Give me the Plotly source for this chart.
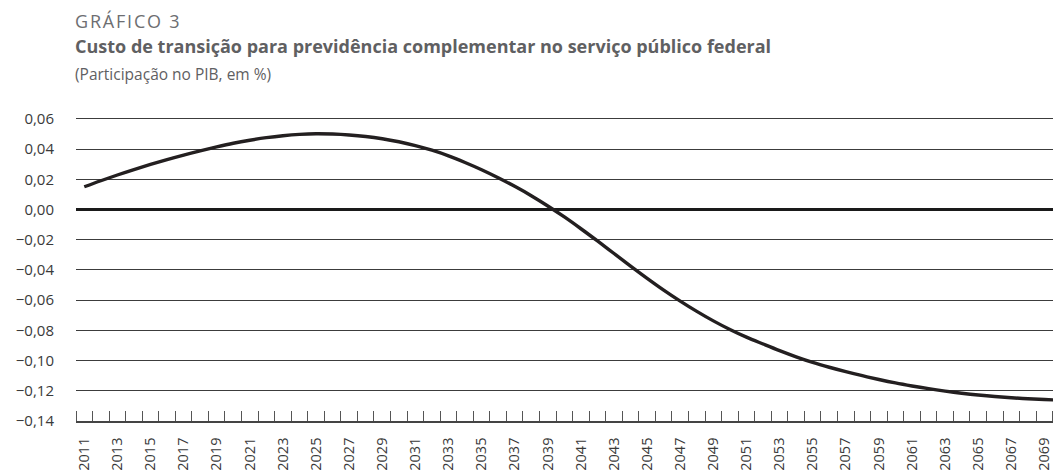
import plotly.graph_objects as go

years = list(range(2011, 2071))
custo = [
    0.0151, 0.0191, 0.0229, 0.0265, 0.0299, 0.0331, 0.0361, 0.0389, 0.0415, 0.0439,
    0.0459, 0.0476, 0.0489, 0.0498, 0.0502, 0.0500, 0.0494, 0.0484, 0.0469, 0.0449,
    0.0424, 0.0393, 0.0356, 0.0312, 0.0264, 0.0211, 0.0154, 0.0092, 0.0024, -0.0049,
    -0.0127, -0.0208, -0.0291, -0.0374, -0.0455, -0.0533, -0.0606, -0.0674, -0.0737, -0.0794,
    -0.0845, -0.0890, -0.0934, -0.0975, -0.1012, -0.1044, -0.1073, -0.1100, -0.1125, -0.1148,
    -0.1168, -0.1186, -0.1202, -0.1216, -0.1228, -0.1238, -0.1246, -0.1253, -0.1258, -0.1262,
]
label_years = list(range(2011, 2070, 2))
y_ticks = [0.06, 0.04, 0.02, 0.00, -0.02, -0.04, -0.06, -0.08, -0.10, -0.12, -0.14]

FONT = "Open Sans"
OFF = 8  # page body margin offset
W, H = 1061, 471
# target positions in the window
Y_TOP_GRID = 119     # window y of 0.06
B_win = 427          # window y of -0.14 (axis line)
T_win = 117          # plot top (a little above the top gridline so it is drawn)
L_win, R_win = 72, 1061
UNIT_PER_PX = 0.20 / (B_win - Y_TOP_GRID)
Y_MAX = 0.06 + (Y_TOP_GRID - T_win) * UNIT_PER_PX

T = T_win - OFF
L = L_win - OFF
R = W - (R_win - OFF)
B = H - (B_win - OFF)
PH = B_win - T_win

def py(p):
    return 1 + (T_win - p) / PH

fig = go.Figure()
fig.add_trace(go.Scatter(
    x=years, y=custo, mode="lines",
    line=dict(color="#231f20", width=3.4, shape="spline"),
    hoverinfo="skip", showlegend=False,
))

fig.update_layout(
    width=W, height=H,
    margin=dict(l=L, r=R, t=T, b=B, pad=0),
    paper_bgcolor="white", plot_bgcolor="white",
    separators=",.",
    font=dict(family=FONT, color="#3a3a3a", size=14),
    xaxis=dict(
        range=[2010.5, 2070.0],
        tickmode="array", tickvals=label_years, ticktext=[str(y) for y in label_years],
        tickangle=-90, ticks="", showgrid=False, zeroline=False,
        showline=True, linecolor="#444", linewidth=1.5,
        ticklabelstandoff=9,
        tickfont=dict(family=FONT, size=14.5, color="#3a3a3a"),
        minor=dict(ticks="inside", tick0=2010.5, dtick=1, ticklen=10,
                   tickcolor="#555", tickwidth=1, showgrid=False),
        fixedrange=True,
    ),
    yaxis=dict(
        range=[-0.14, Y_MAX],
        tickmode="array", tickvals=y_ticks, tickformat=".2f",
        showgrid=True, gridcolor="#3c3c3c", gridwidth=1.2,
        zeroline=True, zerolinecolor="#1a1a1a", zerolinewidth=3,
        showline=False, ticks="", ticklabelstandoff=21,
        tickfont=dict(family=FONT, size=15, color="#3a3a3a"),
        fixedrange=True,
    ),
    annotations=[
        dict(text="G\u200aR\u200aÁ\u200aF\u200aI\u200aC\u200aO\u200a \u200a3",
             xref="paper", yref="paper", x=0, y=py(19), xshift=-3,
             xanchor="left", yanchor="middle", showarrow=False,
             font=dict(family=FONT, size=18, color="#6d6e71")),
        dict(text="<b>Custo de transição para previdência complementar no serviço público federal</b>",
             xref="paper", yref="paper", x=0, y=py(45), xshift=-3,
             xanchor="left", yanchor="middle", showarrow=False,
             font=dict(family=FONT, size=18, color="#5f6062")),
        dict(text="(Participação no PIB, em %)", xref="paper", yref="paper", x=0, y=py(73), xshift=-3,
             xanchor="left", yanchor="middle", showarrow=False,
             font=dict(family=FONT, size=15.5, color="#5f6062")),
    ],
)

fig.write_html("out.html", config={"displayModeBar": False})
